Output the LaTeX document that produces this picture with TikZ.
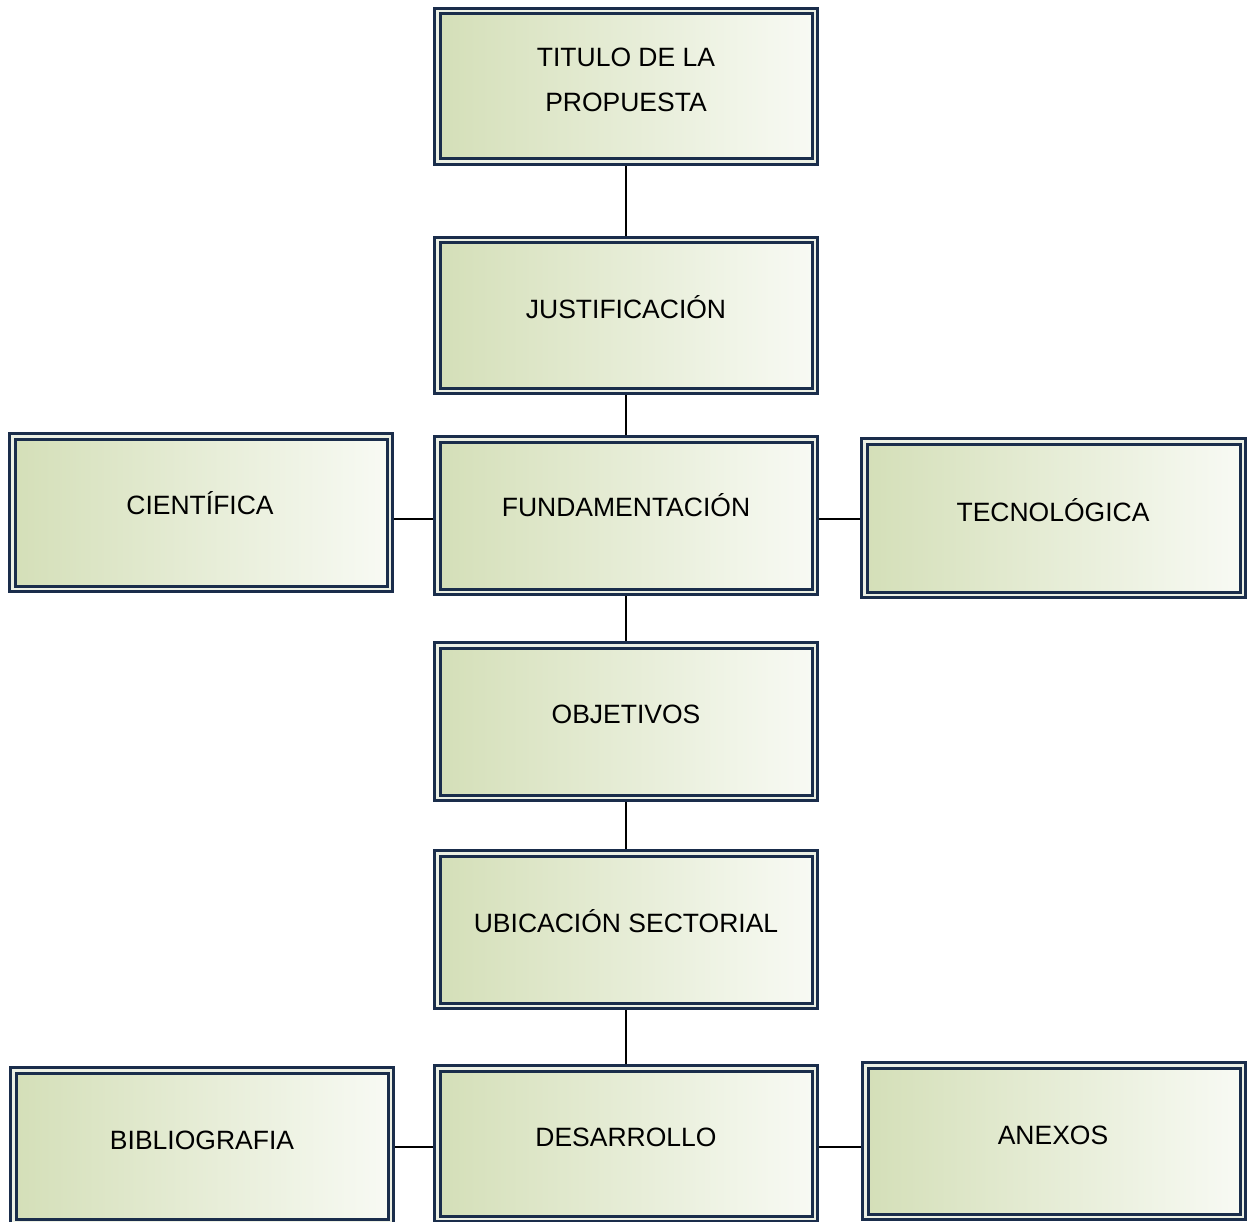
\documentclass[tikz,border=0pt]{standalone}
\usepackage{fontspec}
\setmainfont{Liberation Sans}
\usetikzlibrary{backgrounds}
\definecolor{navy}{RGB}{26,45,75}
\definecolor{gapc}{RGB}{236,240,228}
\definecolor{gleft}{RGB}{212,223,184}
\definecolor{gright}{RGB}{248,250,244}
\tikzset{
  boxnode/.style={rectangle, inner sep=0pt, draw=navy, line width=3pt,
    double=gapc, double distance=2.5pt, left color=gleft, right color=gright},
  txt/.style={anchor=base, inner sep=0pt, align=center,
    font=\fontsize{26.5}{45}\selectfont, text=black},
  conn/.style={draw=black, line width=1.8pt}
}
\begin{document}
\begin{tikzpicture}[x=1pt,y=-1pt]
\useasboundingbox (0,0) rectangle (1247,1222);
% boxes
\node[boxnode, minimum width=377.5pt, minimum height=150.5pt] (titulo) at (626,86.5) {};
\node[boxnode, minimum width=377.5pt, minimum height=150.5pt] (just) at (626,315.5) {};
\node[boxnode, minimum width=377.5pt, minimum height=152.5pt] (fund) at (626,515.5) {};
\node[boxnode, minimum width=377.5pt, minimum height=152.5pt] (cient) at (201,512.5) {};
\node[boxnode, minimum width=378.5pt, minimum height=153.5pt] (tecno) at (1053.5,518) {};
\node[boxnode, minimum width=377.5pt, minimum height=152.5pt] (obj) at (626,721.5) {};
\node[boxnode, minimum width=377.5pt, minimum height=152.5pt] (ubic) at (626,929.5) {};
\node[boxnode, minimum width=377.5pt, minimum height=150.5pt] (desa) at (626,1143.5) {};
\node[boxnode, minimum width=377.5pt, minimum height=151.5pt] (bib) at (202,1146) {};
\node[boxnode, minimum width=377.5pt, minimum height=151.5pt] (anex) at (1054,1141) {};
% texts
\node[txt] (t-titulo) at (626,111.3) {TITULO DE LA\\PROPUESTA};
\node[txt] (t-just) at (626,318.5) {JUSTIFICACIÓN};
\node[txt] (t-fund) at (626,516.5) {FUNDAMENTACIÓN};
\node[txt] (t-cient) at (200,514.5) {CIENTÍFICA};
\node[txt] (t-tecno) at (1053,521.5) {TECNOLÓGICA};
\node[txt] (t-obj) at (626,723.5) {OBJETIVOS};
\node[txt] (t-ubic) at (626,932.5) {UBICACIÓN SECTORIAL};
\node[txt] (t-desa) at (626,1146.5) {DESARROLLO};
\node[txt] (t-bib) at (202,1149.5) {BIBLIOGRAFIA};
\node[txt] (t-anex) at (1053,1144.5) {ANEXOS};
% connectors
\begin{scope}[on background layer]
\draw[conn] (titulo.south) -- (just.north);
\draw[conn] (just.south) -- (fund.north);
\draw[conn] (fund.south) -- (obj.north);
\draw[conn] (obj.south) -- (ubic.north);
\draw[conn] (ubic.south) -- (ubic.south |- desa.north);
\draw[conn] (cient.east |- 0,519) -- (fund.west |- 0,519);
\draw[conn] (fund.east |- 0,519) -- (tecno.west |- 0,519);
\draw[conn] (bib.east |- 0,1147) -- (desa.west |- 0,1147);
\draw[conn] (desa.east |- 0,1147) -- (anex.west |- 0,1147);
\end{scope}
\end{tikzpicture}
\end{document}
